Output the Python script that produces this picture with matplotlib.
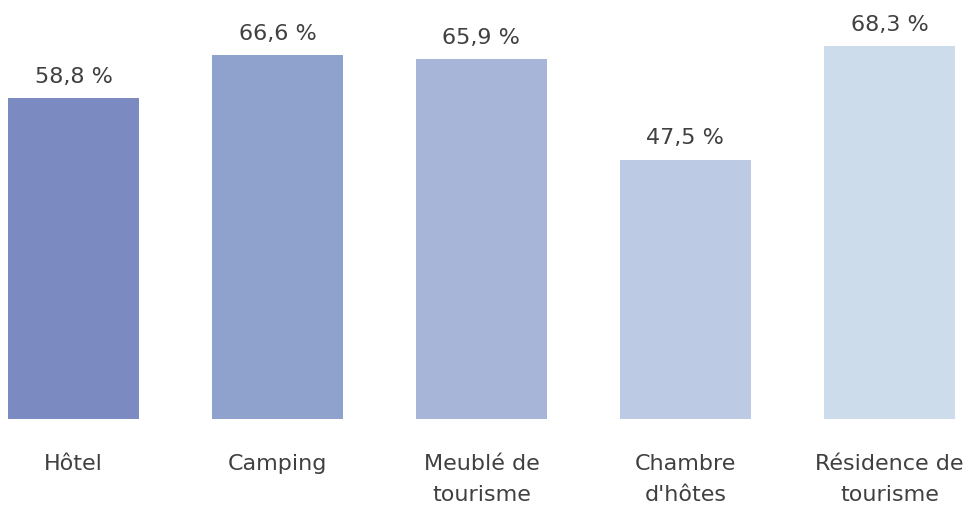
import matplotlib.pyplot as plt

categories = ['Hôtel', 'Camping', 'Meublé de\ntourisme', "Chambre\nd'hôtes", 'Résidence de\ntourisme']
values = [58.8, 66.6, 65.9, 47.5, 68.3]
labels = ['58,8 %', '66,6 %', '65,9 %', '47,5 %', '68,3 %']
colors = ['#7b8bc2', '#8fa1cd', '#a7b5d8', '#bccbe3', '#cddcea']

plt.rcParams['font.family'] = ['DejaVu Sans']

fig = plt.figure(figsize=(9.8, 5.07), dpi=100)
ax = fig.add_axes([0, 0.1736, 1, 0.8264])

x = list(range(len(values)))
bars = ax.bar(x, values, width=0.642, color=colors)

# valeurs au-dessus des barres
for b, lab in zip(bars, labels):
    ax.annotate(lab, (b.get_x() + b.get_width() / 2, b.get_height()),
                xytext=(0, 8), textcoords='offset points',
                ha='center', va='bottom', fontsize=16, color='#404040')

ax.set_xlim(-0.36, 4.444)
ax.set_ylim(0, 76.7)
ax.set_xticks(x)
ax.set_xticklabels(categories, fontsize=16, color='#404040', linespacing=1.7)
ax.tick_params(axis='x', length=0, pad=25)
ax.set_yticks([])
for s in ax.spines.values():
    s.set_visible(False)

fig.savefig('out.png', dpi=100)
